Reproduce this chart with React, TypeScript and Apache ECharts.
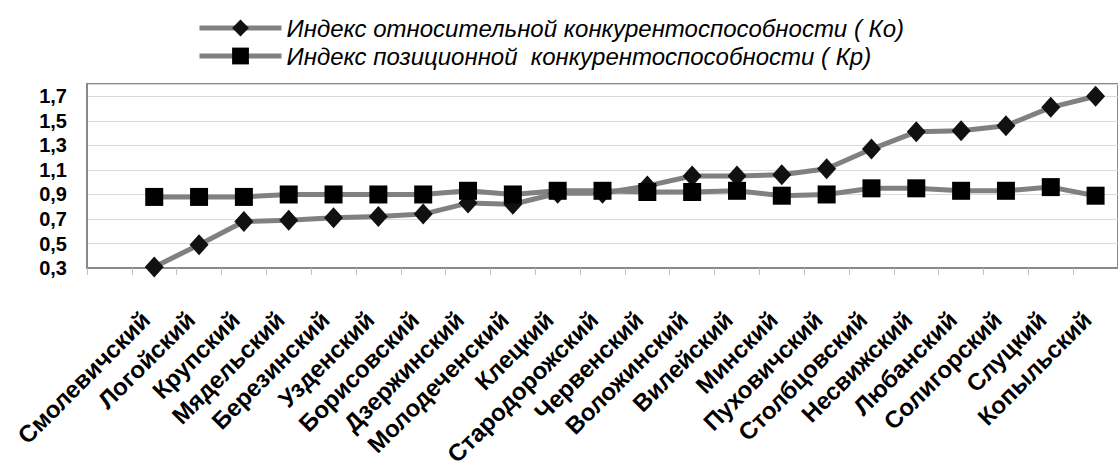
import React, { useEffect, useRef } from "react";
import * as echarts from "echarts";

const categories: string[] = [
  "",
  "Смолевичский",
  "Логойский",
  "Крупский",
  "Мядельский",
  "Березинский",
  "Узденский",
  "Борисовский",
  "Дзержинский",
  "Молодеченский",
  "Клецкий",
  "Стародорожский",
  "Червенский",
  "Воложинский",
  "Вилейский",
  "Минский",
  "Пуховичский",
  "Столбцовский",
  "Несвижский",
  "Любанский",
  "Солигорский",
  "Слуцкий",
  "Копыльский",
];

const seriesNames: string[] = [
  "Индекс относительной конкурентоспособности ( Ко)",
  "Индекс позиционной  конкурентоспособности ( Кр)",
];

const koValues: (number | null)[] = [
  null, 0.31, 0.49, 0.68, 0.69, 0.71, 0.72, 0.74, 0.83, 0.82, 0.91, 0.91,
  0.97, 1.05, 1.05, 1.06, 1.11, 1.27, 1.41, 1.42, 1.46, 1.61, 1.7,
];

const kpValues: (number | null)[] = [
  null, 0.88, 0.88, 0.88, 0.9, 0.9, 0.9, 0.9, 0.93, 0.9, 0.93, 0.93, 0.92,
  0.92, 0.93, 0.89, 0.9, 0.95, 0.95, 0.93, 0.93, 0.96, 0.89,
];

const yMin = 0.3;
const yMax = 1.8;
const yStep = 0.2;

export default function App() {
  const ref = useRef<HTMLDivElement>(null);

  useEffect(() => {
    if (!ref.current) return;
    const chart = echarts.init(ref.current, undefined, { renderer: "svg" });
    const lineColor = "#808080";
    chart.setOption({
      animation: false,
      backgroundColor: "#ffffff",
      legend: {
        orient: "vertical",
        left: 192,
        top: 11,
        itemWidth: 82,
        itemHeight: 21,
        itemGap: 4,
        lineStyle: { width: 5, color: lineColor },
        textStyle: {
          fontFamily: "Liberation Sans, Arial, sans-serif",
          fontStyle: "italic",
          fontSize: 24,
          color: "#000",
        },
        data: seriesNames,
      },
      grid: {
        left: 87,
        top: 84,
        width: 1043,
        height: 188,
        show: true,
        borderColor: "#888888",
        borderWidth: 2,
        backgroundColor: "transparent",
      },
      xAxis: {
        type: "category",
        data: categories,
        boundaryGap: true,
        axisLine: { show: true, lineStyle: { color: "#888888", width: 2 } },
        axisTick: {
          show: true,
          alignWithLabel: false,
          length: 7,
          lineStyle: { color: "#c0c0c0", width: 1 },
        },
        axisLabel: {
          interval: 0,
          rotate: 45,
          margin: 56,
          verticalAlign: "bottom",
          fontFamily: "Liberation Sans, Arial, sans-serif",
          fontWeight: "bold",
          fontSize: 24,
          color: "#000",
        },
        splitLine: { show: false },
      },
      yAxis: {
        type: "value",
        min: yMin,
        max: yMax,
        interval: yStep,
        axisLine: { show: true, lineStyle: { color: "#888888", width: 2 } },
        axisTick: { show: false },
        axisLabel: {
          margin: 20,
          showMaxLabel: false,
          fontFamily: "Liberation Sans, Arial, sans-serif",
          fontWeight: "bold",
          fontSize: 20,
          color: "#000",
          formatter: (v: number) =>
            v > 1.75 ? "" : v.toFixed(1).replace(".", ","),
        },
        splitLine: { show: true, lineStyle: { color: "#d9d9d9", width: 1 } },
      },
      series: [
        {
          name: seriesNames[0],
          type: "line",
          data: koValues,
          symbol: "diamond",
          symbolSize: [19, 21],
          lineStyle: { color: lineColor, width: 5 },
          itemStyle: { color: "#111111" },
          clip: false,
        },
        {
          name: seriesNames[1],
          type: "line",
          data: kpValues,
          symbol: "rect",
          symbolSize: 18,
          lineStyle: { color: lineColor, width: 5 },
          itemStyle: { color: "#000000" },
          clip: false,
        },
      ],
    });
    return () => chart.dispose();
  }, []);

  return (
    <div
      ref={ref}
      style={{
        position: "absolute",
        left: 0,
        top: 0,
        width: 1118,
        height: 469,
        background: "#fff",
      }}
    />
  );
}
